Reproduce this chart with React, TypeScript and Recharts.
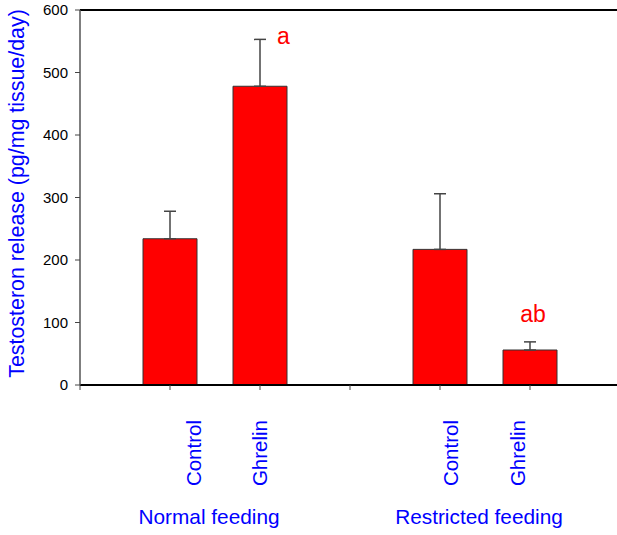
import React from 'react';
import { BarChart, Bar, XAxis, YAxis, ErrorBar, ReferenceLine, LabelList } from 'recharts';

const groups = ['Normal feeding', 'Restricted feeding'];
const treatments = ['Control', 'Ghrelin'];
const means = [234, 478, 217, 56];
const sems = [44, 75, 89, 13];
const letters = ['', 'a', '', 'ab'];
const yTicks = [0, 100, 200, 300, 400, 500, 600];
const xTicks = [0, 1, 2, 3, 4, 5, 6];

// one empty slot between the two feeding groups
const data = means.map((m, i) => {
  const g = Math.floor(i / treatments.length);
  const t = i % treatments.length;
  return {
    slot: g * (treatments.length + 1) + t + 1,
    group: groups[g],
    treatment: treatments[t],
    first: t === 0,
    mean: m,
    sem: sems[i],
    err: [0, sems[i]],
    letter: letters[i],
  };
});

const FONT = '"Liberation Sans", Arial, sans-serif';
const BLUE = '#0000ff';
const RED = '#ff0000';

// the rotated tick names sit a little off their ticks in the original
const labelDx = [30.5, 6.5, 18, -5.5];
const letterPos: Record<string, { dx: number; dy: number; anchor: 'start' | 'middle' }> = {
  a: { dx: 17, dy: 5, anchor: 'start' },
  ab: { dx: 3, dy: -20, anchor: 'middle' },
};

function XTick(props: any) {
  const { x, y, payload } = props;
  const i = data.findIndex((d) => d.slot === payload.value);
  if (i < 0) return null;
  const d = data[i];
  const lx = x + labelDx[i];
  const ly = y + 30;
  return (
    <g>
      <text
        x={lx}
        y={ly}
        transform={`rotate(-90, ${lx}, ${ly})`}
        textAnchor="end"
        fill={BLUE}
        fontSize={20.5}
        fontFamily={FONT}
      >
        {d.treatment}
      </text>
      {d.first && (
        <text x={x + 39} y={y + 134} textAnchor="middle" fill={BLUE} fontSize={20.8} fontFamily={FONT}>
          {d.group}
        </text>
      )}
    </g>
  );
}

function YTitle(props: any) {
  const vb = props.viewBox || { x: 0, y: 10, width: 80, height: 375 };
  const tx = vb.x + 24;
  const ty = vb.y + vb.height / 2 - 4;
  return (
    <text
      x={tx}
      y={ty}
      transform={`rotate(-90, ${tx}, ${ty})`}
      textAnchor="middle"
      fill={BLUE}
      fontSize={21.4}
      fontFamily={FONT}
    >
      Testosteron release (pg/mg tissue/day)
    </text>
  );
}

function Letter(props: any) {
  const { x, y, width, height, value } = props;
  if (!value) return null;
  const i = letters.indexOf(value);
  const d = data[i];
  const errTop = y - (d.sem * height) / d.mean;
  const p = letterPos[value];
  return (
    <text
      x={x + width / 2 + p.dx}
      y={errTop + p.dy}
      textAnchor={p.anchor}
      fill={RED}
      fontSize={23}
      fontFamily={FONT}
    >
      {value}
    </text>
  );
}

export default function App() {
  return (
    <div style={{ position: 'absolute', left: 0, top: 0, width: 617, height: 535, overflow: 'hidden', background: '#fff' }}>
      <BarChart width={630} height={535} data={data} margin={{ top: 10, right: 10, left: 0, bottom: 0 }}>
        <XAxis
          type="number"
          dataKey="slot"
          domain={[0, 6]}
          ticks={xTicks}
          interval={0}
          height={150}
          tickSize={5}
          tickMargin={0}
          tick={<XTick />}
          axisLine={{ stroke: '#000', strokeWidth: 2 }}
          tickLine={{ stroke: '#444' }}
        />
        <YAxis
          type="number"
          domain={[0, 600]}
          ticks={yTicks}
          width={80}
          tickSize={5}
          tickMargin={7}
          tick={{ fill: '#000', fontSize: 15, fontFamily: FONT }}
          axisLine={{ stroke: '#555', strokeWidth: 1.5 }}
          tickLine={{ stroke: '#444' }}
          label={<YTitle />}
        />
        <ReferenceLine y={600} stroke="#000" strokeWidth={2} />
        <Bar dataKey="mean" fill={RED} stroke="#333" strokeWidth={1} barSize={54} isAnimationActive={false}>
          <ErrorBar dataKey="err" direction="y" width={6} stroke="#444" strokeWidth={1.5} />
          <LabelList dataKey="letter" content={<Letter />} />
        </Bar>
      </BarChart>
    </div>
  );
}
